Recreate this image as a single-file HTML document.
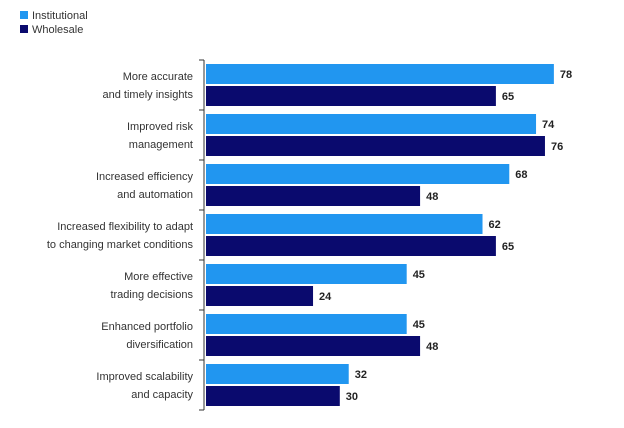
<!DOCTYPE html>
<html><head><meta charset="utf-8"><style>
html,body{margin:0;padding:0;background:#fff;}
body{width:624px;height:423px;overflow:hidden;font-family:"Liberation Sans",sans-serif;}
</style></head><body>
<svg id="chart" width="624" height="423" xmlns="http://www.w3.org/2000/svg">
<g>
<rect x="20" y="11" width="8" height="8" fill="#2196f0"/>
<text x="32" y="19" font-size="11" fill="#333">Institutional</text>
<rect x="20" y="25" width="8" height="8" fill="#0a0a6e"/>
<text x="32" y="33" font-size="11" fill="#333">Wholesale</text>
</g>
<g id="plot"></g>
</svg>
<script>
const categories = [["More accurate","and timely insights"],["Improved risk","management"],["Increased efficiency","and automation"],["Increased flexibility to adapt","to changing market conditions"],["More effective","trading decisions"],["Enhanced portfolio","diversification"],["Improved scalability","and capacity"]];
const institutional = [78,74,68,62,45,45,32];
const wholesale = [65,76,48,65,24,48,30];
const x0 = 206, pxPer = 4.46, top0 = 64, groupH = 50, barH = 20;
const xScale = v => x0 + v * pxPer;
const NS = "http://www.w3.org/2000/svg";
const g = document.getElementById('plot');
function mk(tag, attrs){const e=document.createElementNS(NS,tag);for(const k in attrs)e.setAttribute(k,attrs[k]);g.appendChild(e);return e;}
const axis = mk('line',{x1:204,x2:204,y1:top0-4,y2:top0-4+groupH*categories.length,stroke:'#333','stroke-width':1});


for(let i=0;i<=categories.length;i++){
  const t=mk('line',{x1:199,x2:204,y1:top0-4+groupH*i,y2:top0-4+groupH*i,stroke:'#333','stroke-width':1});
  
  
}
categories.forEach((c,i)=>{
  const y=top0+groupH*i;
  const cy=y+barH+1;
  c.forEach((line,j)=>{
    const t=mk('text',{x:193,y:cy-5+j*18,'font-size':11,fill:'#333','text-anchor':'end'});
    t.textContent=line;
    
    
  });
  [[institutional,'#2196f0',0,'institutional'],[wholesale,'#0a0a6e',barH+2,'wholesale']].forEach(([arr,col,off,nm])=>{
    const r=mk('rect',{x:x0,y:y+off,width:xScale(arr[i])-x0,height:barH,fill:col});
    
    
    const v=mk('text',{x:xScale(arr[i])+6,y:y+off+barH/2+4,'font-size':11,'font-weight':'bold',fill:'#222'});
    v.textContent=arr[i];
    
    
  });
});
</script>
</body></html>
